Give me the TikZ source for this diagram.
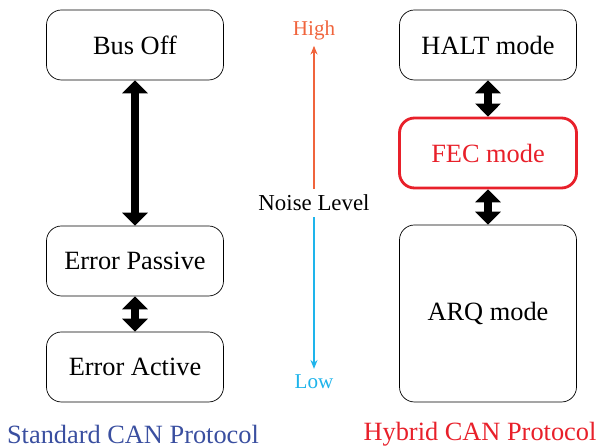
\documentclass[tikz,border=0pt]{standalone}
\usepackage{fontspec}
\setmainfont{Liberation Serif}
\usetikzlibrary{arrows.meta}

\definecolor{hiorange}{RGB}{240,100,60}
\definecolor{lowblue}{RGB}{30,180,235}
\definecolor{fecred}{RGB}{232,32,42}
\definecolor{stdblue}{RGB}{58,79,160}

\tikzset{
  modebox/.style={draw, rounded corners=0.3cm, minimum width=3.54cm, minimum height=1.4cm,
    font=\fontsize{15}{18}\selectfont},
  bigarrow/.style={line width=0.16cm, {Triangle[width=0.5cm,length=0.26cm]}-{Triangle[width=0.5cm,length=0.26cm]}},
  levelarrow/.style={line width=0.6pt, -{Stealth[length=5pt,width=4pt]}}
}

\begin{document}
\begin{tikzpicture}
      \useasboundingbox (0,0) rectangle (12.12,8.96);

      % standard CAN states
      \node[modebox] (busoff) at (2.7, 8.06) {Bus Off};
      \node[modebox] (errpassive) at (2.7, 3.74) {Error Passive};
      \node[modebox] (erractive) at (2.7, 1.62) {Error Active};

      \draw[bigarrow] (busoff) -- (errpassive);
      \draw[bigarrow] (errpassive) -- (erractive);

      % hybrid CAN modes
      \node[modebox] (halt) at (9.76, 8.06) {HALT mode};
      \node[modebox, draw=fecred, line width=1.6pt, text=fecred] (fec) at (9.76, 5.9) {FEC mode};
      \node[modebox, minimum height=3.54cm] (arq) at (9.76, 2.69) {ARQ mode};

      \draw[bigarrow] (halt) -- (fec);
      \draw[bigarrow] (fec) -- (arq);

      % noise level axis
      \node[text=hiorange, font=\fontsize{12}{14}\selectfont] (high) at (6.28, 8.36) {High};
      \node[font=\fontsize{13}{16}\selectfont] (noise) at (6.28, 4.9) {Noise Level};
      \node[text=lowblue, font=\fontsize{12}{14}\selectfont] (low) at (6.28, 1.32) {Low};

      \draw[levelarrow, hiorange] (noise) -- (high);
      \draw[levelarrow, lowblue] (noise) -- (low);

      \node[text=stdblue, font=\fontsize{15}{18}\selectfont] (stdlabel) at (2.66, 0.28) {Standard CAN Protocol};
      \node[text=fecred, font=\fontsize{15}{18}\selectfont] (hyblabel) at (9.6, 0.28) {Hybrid CAN Protocol};
\end{tikzpicture}
\end{document}
